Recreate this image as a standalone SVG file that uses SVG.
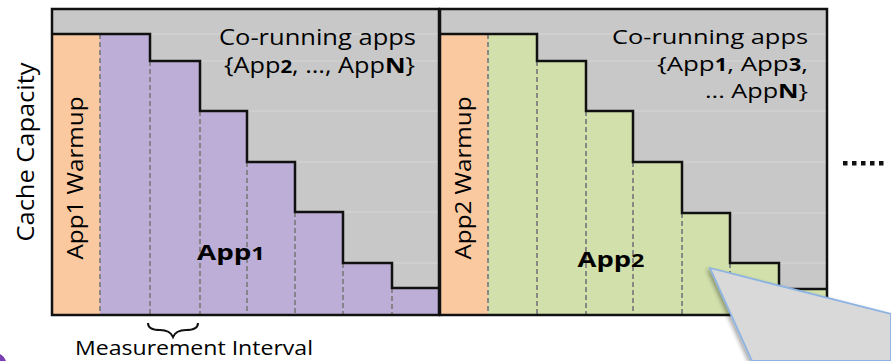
<svg xmlns="http://www.w3.org/2000/svg" width="891" height="361" viewBox="0 0 891 361">
<style>
.bg{fill:#c8c8c8}
.grid{stroke:#d6d6d6;stroke-width:1.2}
.warm{fill:#fbc9a0}
.p1{fill:#bcaed6}
.p2{fill:#d2e0ab}
.dash{stroke:#808080;stroke-width:1.8;stroke-dasharray:5,3;fill:none}
.step{stroke:#111;stroke-width:2.5;fill:none;stroke-linejoin:miter}
.frame{stroke:#111;stroke-width:2.5;fill:none}
.t{font-family:"Open Sans","Liberation Sans",sans-serif;fill:#000}
.b{font-family:"Open Sans","Liberation Sans",sans-serif;font-weight:bold;fill:#000}
</style>
<defs>
<filter id="sh" x="-10%" y="-10%" width="130%" height="130%">
<feGaussianBlur in="SourceAlpha" stdDeviation="2"/>
<feOffset dx="-2" dy="2"/>
<feComponentTransfer><feFuncA type="linear" slope="0.35"/></feComponentTransfer>
<feMerge><feMergeNode/><feMergeNode in="SourceGraphic"/></feMerge>
</filter>
</defs>
<rect width="891" height="361" fill="#ffffff"/>

<text class="t" font-size="24" text-anchor="middle" textLength="179" lengthAdjust="spacingAndGlyphs" transform="translate(34,152) rotate(-90)">Cache Capacity</text>

<g id="panel1">
<rect class="bg" x="52" y="9" width="387" height="306"/>
<g class="grid">
<line x1="52" y1="34" x2="439" y2="34"/><line x1="52" y1="61" x2="439" y2="61"/>
<line x1="52" y1="111" x2="439" y2="111"/><line x1="52" y1="162" x2="439" y2="162"/>
<line x1="52" y1="212" x2="439" y2="212"/><line x1="52" y1="263" x2="439" y2="263"/>
<line x1="52" y1="288" x2="439" y2="288"/>
</g>
<rect class="warm" x="52" y="34" width="48" height="281"/>
<path class="p1" d="M100,34 H150 V61 H200 V111 H247 V162 H295 V212 H343 V263 H392 V288 H439 V315 H100 Z"/>
<g class="dash">
<line x1="100" y1="34" x2="100" y2="315"/><line x1="150" y1="61" x2="150" y2="315"/>
<line x1="200" y1="111" x2="200" y2="315"/><line x1="247" y1="162" x2="247" y2="315"/>
<line x1="295" y1="212" x2="295" y2="315"/><line x1="343" y1="263" x2="343" y2="315"/>
<line x1="392" y1="288" x2="392" y2="315"/>
</g>
<path class="step" d="M52,34 H150 V61 H200 V111 H247 V162 H295 V212 H343 V263 H392 V288 H438"/>
<rect class="frame" x="52" y="9" width="387" height="306"/>
<text class="t" font-size="22" text-anchor="middle" textLength="163" lengthAdjust="spacingAndGlyphs" transform="translate(83,178) rotate(-90)">App1 Warmup</text>
<text class="t" font-size="21" x="416" y="45" text-anchor="end" textLength="197" lengthAdjust="spacingAndGlyphs">Co-running apps</text>
<text class="t" font-size="21" x="415" y="73" text-anchor="end" textLength="191" lengthAdjust="spacingAndGlyphs">{App<tspan font-weight="bold" font-size="17">2</tspan>, …, App<tspan font-weight="bold">N</tspan>}</text>
<text class="b" font-size="21" x="231" y="260" text-anchor="middle" textLength="68" lengthAdjust="spacingAndGlyphs">App<tspan font-size="18">1</tspan></text>
</g>

<g id="panel2">
<rect class="bg" x="440" y="9" width="387" height="306"/>
<g class="grid">
<line x1="440" y1="34" x2="827" y2="34"/><line x1="440" y1="61" x2="827" y2="61"/>
<line x1="440" y1="111" x2="827" y2="111"/><line x1="440" y1="162" x2="827" y2="162"/>
<line x1="440" y1="213" x2="827" y2="213"/><line x1="440" y1="263" x2="827" y2="263"/>
<line x1="440" y1="289" x2="827" y2="289"/>
</g>
<rect class="warm" x="440" y="34" width="48" height="281"/>
<path class="p2" d="M488,34 H537 V61 H586 V111 H633 V162 H682 V213 H730 V263 H779 V289 H827 V315 H488 Z"/>
<g class="dash">
<line x1="488" y1="34" x2="488" y2="315"/><line x1="537" y1="61" x2="537" y2="315"/>
<line x1="586" y1="111" x2="586" y2="315"/><line x1="633" y1="162" x2="633" y2="315"/>
<line x1="682" y1="213" x2="682" y2="315"/><line x1="730" y1="263" x2="730" y2="315"/>
<line x1="779" y1="289" x2="779" y2="315"/>
</g>
<path class="step" d="M440,34 H537 V61 H586 V111 H633 V162 H682 V213 H730 V263 H779 V289 H826"/>
<rect class="frame" x="440" y="9" width="387" height="306"/>
<text class="t" font-size="22" text-anchor="middle" textLength="163" lengthAdjust="spacingAndGlyphs" transform="translate(471,178) rotate(-90)">App2 Warmup</text>
<text class="t" font-size="20" x="808" y="44" text-anchor="end" textLength="196" lengthAdjust="spacingAndGlyphs">Co-running apps</text>
<text class="t" font-size="20" x="808" y="71" text-anchor="end" textLength="151" lengthAdjust="spacingAndGlyphs">{App<tspan font-weight="bold" font-size="17">1</tspan>, App<tspan font-weight="bold" font-size="17">3</tspan>,</text>
<text class="t" font-size="20" x="808" y="98" text-anchor="end" textLength="103" lengthAdjust="spacingAndGlyphs">... App<tspan font-weight="bold">N</tspan>}</text>
<text class="b" font-size="21" x="611" y="267" text-anchor="middle" textLength="67" lengthAdjust="spacingAndGlyphs">App<tspan font-size="18">2</tspan></text>
</g>

<g id="ellipsis" fill="#111">
<rect x="843" y="161" width="4.5" height="4.5"/><rect x="852" y="161" width="4.5" height="4.5"/>
<rect x="861" y="161" width="4.5" height="4.5"/><rect x="870" y="161" width="4.5" height="4.5"/>
<rect x="879" y="161" width="4.5" height="4.5"/>
</g>

<g id="measurement">
<path d="M148,323 Q148,330 160,330 Q170,330 173,337 Q176,330 186,330 Q198,330 198,323" fill="none" stroke="#111" stroke-width="2"/>
<text class="t" font-size="20" x="194" y="355" text-anchor="middle" textLength="238" lengthAdjust="spacingAndGlyphs">Measurement Interval</text>
</g>

<g id="callout">
<polygon points="710,268 891,314 891,361 752,361" fill="#d9d9d9" stroke="#8db3e2" stroke-width="1.8" filter="url(#sh)"/>
</g>
<path d="M0,361 L0,354 Q4,356 6,361 Z" fill="#7a3fb0"/>
</svg>
